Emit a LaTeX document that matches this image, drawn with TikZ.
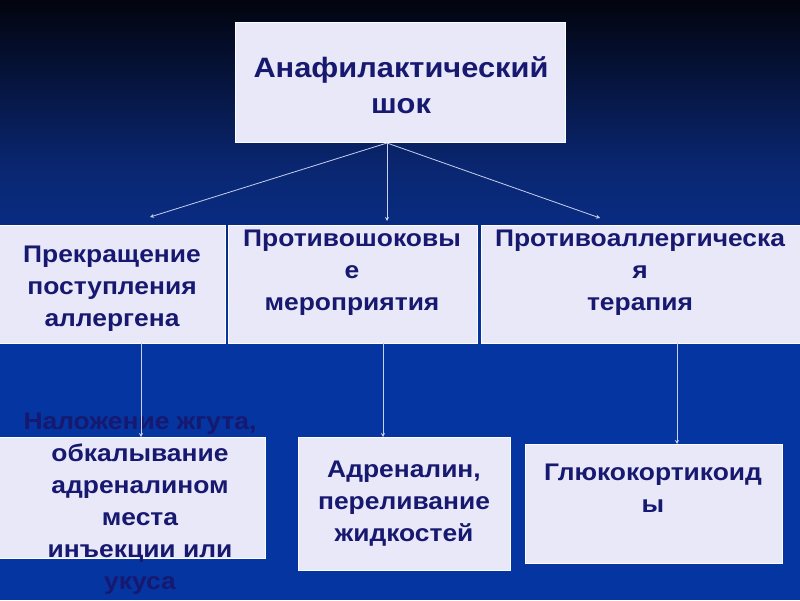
\documentclass[tikz,border=0pt]{standalone}
\usepackage{fontspec}
\setmainfont{Liberation Sans}[FakeStretch=1.1]
\usetikzlibrary{arrows.meta,calc}
\definecolor{txt}{HTML}{17186F}
\definecolor{boxfill}{HTML}{E8E8F8}
\definecolor{bgtop}{HTML}{02040E}
\definecolor{bgmid}{HTML}{0A2670}
\definecolor{bgbot}{HTML}{0535A0}
\definecolor{linec}{HTML}{C8D0F0}
\begin{document}
\begin{tikzpicture}[x=1pt,y=-1pt,
  box/.style={draw=white!90!boxfill, line width=0.8pt, fill=boxfill, inner sep=0pt, outer sep=0pt},
  lbl/.style={text=txt, font=\fontsize{24}{32}\selectfont\bfseries, align=center, inner sep=0pt},
  arr/.style={draw=linec, line width=0.8pt, -{Stealth[length=4pt,width=4pt]}}]
\useasboundingbox (0,0) rectangle (800,600);
\fill[bgbot] (0,0) rectangle (800,600);
\shade[top color=bgtop, bottom color=bgbot, middle color=bgmid] (0,0) rectangle (800,330);
% boxes
\node[box, minimum width=330pt, minimum height=120pt] (top) at (400,82) {};
\node[box, minimum width=226pt, minimum height=118pt] (m1) at (112,284) {};
\node[box, minimum width=249pt, minimum height=118pt] (m2) at (352.5,284) {};
\node[box, minimum width=320pt, minimum height=118pt] (m3) at (641,284) {};
\node[box, minimum width=266pt, minimum height=121pt] (b1) at (132.5,497.5) {};
\node[box, minimum width=212pt, minimum height=133pt] (b2) at (404,503.5) {};
\node[box, minimum width=257pt, minimum height=119pt] (b3) at (653.5,503.5) {};
% texts
\node[lbl, font=\fontsize{28}{36}\selectfont\bfseries] (ttop) at (401,85) {Анафилактический\\шок};
\node[lbl] (tm1) at (112,289) {Прекращение\\поступления\\аллергена};
\node[lbl] (tm2) at (352,273) {Противошоковы\\е\\мероприятия};
\node[lbl] (tm3) at (640,273) {Противоаллергическа\\я\\терапия};
\node[lbl] (tb1) at (140,504) {Наложение жгута,\\обкалывание\\адреналином\\места\\инъекции или\\укуса};
\node[lbl] (tb2) at (404,504) {Адреналин,\\переливание\\жидкостей};
\node[lbl] (tb3) at (653,488) {Глюкокортикоид\\ы};
% connectors
\coordinate (s0) at (387,143);
\coordinate (e1) at (150,217);
\coordinate (e2) at (387,221);
\coordinate (e3) at (600,218);
\draw[arr] (s0) -- (e1);
\draw[arr] (s0) -- (e2);
\draw[arr] (s0) -- (e3);
\coordinate (c1) at (141,0);
\coordinate (c2) at (383,0);
\coordinate (c3) at (677,0);
\draw[arr] (m1.south -| c1) -- (b1.north -| c1);
\draw[arr] (m2.south -| c2) -- (b2.north -| c2);
\draw[arr] (m3.south -| c3) -- (b3.north -| c3);
\end{tikzpicture}
\end{document}
